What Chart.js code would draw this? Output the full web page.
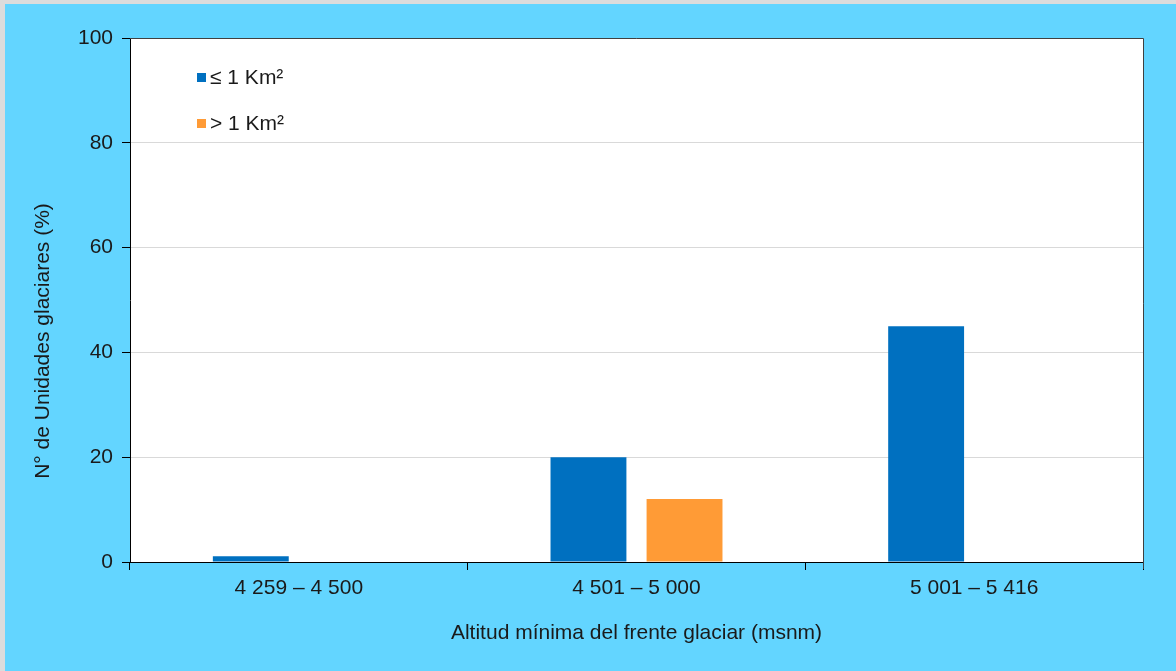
<!DOCTYPE html>
<html>
<head>
<meta charset="utf-8">
<script src="https://cdn.jsdelivr.net/npm/chart.js@4.4.1/dist/chart.umd.min.js"></script>
<style>
  html, body { margin: 0; padding: 0; }
  body { width: 1176px; height: 671px; background: #63d5ff; position: relative; overflow: hidden; }
  .edge-top { position: absolute; left: 0; top: 0; width: 1176px; height: 4px; background: #dcdcdc; }
  .edge-left { position: absolute; left: 0; top: 0; width: 5px; height: 671px; background: #dcdcdc; }
  #wrap { position: absolute; left: 0; top: 0; width: 1176px; height: 671px; }
  #chart-alt { display: block; }
</style>
</head>
<body>
<div class="edge-top"></div>
<div class="edge-left"></div>
<div id="wrap"><canvas id="chart-alt" width="1176" height="671"></canvas></div>
<script>
const categories = ['4 259 – 4 500', '4 501 – 5 000', '5 001 – 5 416'];
const smallGlaciers = [1.1, 20, 45];
const largeGlaciers = [null, 12, null];
const seriesLabels = ['≤ 1 Km²', '> 1 Km²'];
const yTicks = [0, 20, 40, 60, 80, 100];
const yTitle = 'N° de Unidades glaciares (%)';
const xTitle = 'Altitud mínima del frente glaciar (msnm)';

const FONT = '"Liberation Sans", Arial, sans-serif';
const TEXT = '#1a1a1a';
const BLUE = '#0070c0';
const ORANGE = '#ff9b36';

// white plot area, then frame on its top and right
const plotFrame = {
  id: 'plotFrame',
  beforeDraw(chart) {
    const { ctx, chartArea: a } = chart;
    ctx.save();
    ctx.fillStyle = '#ffffff';
    ctx.fillRect(a.left, a.top, a.right - a.left, a.bottom - a.top);
    ctx.restore();
  },
  afterDraw(chart) {
    const { ctx, chartArea: a } = chart;
    ctx.save();
    ctx.strokeStyle = '#404040';
    ctx.lineWidth = 1;
    ctx.beginPath();
    ctx.moveTo(a.left, a.top + 0.5);
    ctx.lineTo(a.right + 0.5, a.top + 0.5);
    ctx.lineTo(a.right + 0.5, a.bottom + 7);
    ctx.stroke();
    ctx.restore();
  }
};

// vertical axis title, sits a bit below the middle of the axis
const yAxisTitle = {
  id: 'yAxisTitle',
  afterDraw(chart) {
    const { ctx } = chart;
    ctx.save();
    ctx.translate(43, 341);
    ctx.rotate(-Math.PI / 2);
    ctx.font = '21px ' + FONT;
    ctx.fillStyle = TEXT;
    ctx.textAlign = 'center';
    ctx.textBaseline = 'middle';
    ctx.fillText(yTitle, 0, 0);
    ctx.restore();
  }
};

// legend stacked inside the top-left of the plot
const innerLegend = {
  id: 'innerLegend',
  afterDraw(chart) {
    const { ctx, chartArea: a } = chart;
    ctx.save();
    ctx.font = '21px ' + FONT;
    ctx.textBaseline = 'middle';
    chart.data.datasets.forEach((ds, i) => {
      const y = a.top + 40 + i * 46;
      ctx.fillStyle = ds.backgroundColor;
      ctx.fillRect(a.left + 67, y - 5, 9, 9);
      ctx.fillStyle = TEXT;
      ctx.fillText(ds.label, a.left + 80, y);
    });
    ctx.restore();
  }
};

new Chart(document.getElementById('chart-alt'), {
  type: 'bar',
  data: {
    labels: categories,
    datasets: [
      { label: seriesLabels[0], data: smallGlaciers, backgroundColor: BLUE,
        categoryPercentage: 0.569, barPercentage: 0.79 },
      { label: seriesLabels[1], data: largeGlaciers, backgroundColor: ORANGE,
        categoryPercentage: 0.569, barPercentage: 0.79 }
    ]
  },
  options: {
    responsive: false,
    animation: false,
    devicePixelRatio: 1,
    layout: { padding: { left: 0, top: 38, right: 33, bottom: 0 } },
    plugins: { legend: { display: false }, tooltip: { enabled: false } },
    scales: {
      x: {
        grid: { offset: true, drawOnChartArea: false, tickLength: 8, tickColor: '#000' },
        border: { color: '#000', width: 1 },
        ticks: { color: TEXT, font: { family: FONT, size: 21 }, padding: 6, maxRotation: 0 },
        title: {
          display: true, text: xTitle,
          color: TEXT, font: { family: FONT, size: 21 }, padding: { top: 0, bottom: 25 }
        },
        afterFit(scale) { scale.height = 109; }
      },
      y: {
        min: 0, max: 100,
        afterBuildTicks(scale) { scale.ticks = yTicks.map(v => ({ value: v })); },
        grid: { color: '#d9d9d9', tickLength: 8, tickColor: '#000' },
        border: { color: '#000', width: 1 },
        ticks: { color: TEXT, font: { family: FONT, size: 21 }, padding: 9 },
        afterFit(scale) { scale.width = 130; }
      }
    }
  },
  plugins: [plotFrame, yAxisTitle, innerLegend]
});
</script>
</body>
</html>
